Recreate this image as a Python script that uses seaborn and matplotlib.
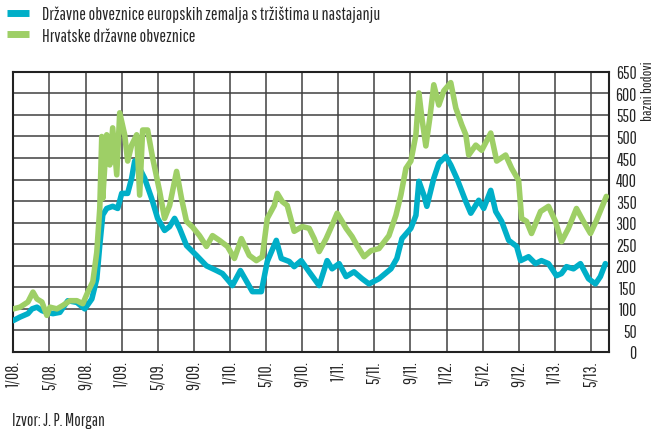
import numpy as np
import pandas as pd
import matplotlib
matplotlib.use("Agg")
import matplotlib.pyplot as plt
from matplotlib.lines import Line2D
import seaborn as sns

# months since 1/2008 and spread in basis points
em_months = [0.0, 0.74, 1.62, 2.07, 2.62, 3.17, 3.72, 4.39, 5.16, 6.04, 7.04, 7.92,
             8.70, 9.25, 9.58, 9.91, 10.35, 11.01, 11.57, 12.01, 12.67, 13.11, 13.45,
             14.00, 14.55, 15.33, 15.99, 16.76, 17.32, 17.87, 18.42, 19.19, 20.30,
             21.40, 22.51, 23.17, 23.94, 24.27, 25.16, 26.49, 27.48, 28.14, 29.14,
             29.69, 30.57, 31.12, 31.90, 32.78, 33.89, 34.77, 35.32, 36.10, 36.87,
             37.75, 38.64, 39.41, 40.52, 41.84, 42.50, 43.06, 44.05, 44.61, 44.94,
             45.49, 45.82, 46.59, 47.15, 47.92, 48.47, 49.14, 50.14, 50.69, 51.57,
             52.12, 52.90, 53.45, 54.11, 54.89, 55.77, 56.21, 57.09, 57.86, 58.52,
             59.30, 60.18, 60.74, 61.29, 62.07, 62.84, 63.73, 64.50, 65.05, 65.60]
em_spread = [73, 81, 89, 100, 104, 96, 92, 89, 92, 119, 115, 100,
             123, 170, 248, 318, 333, 338, 333, 368, 368, 403, 443,
             426, 403, 356, 310, 282, 291, 310, 287, 247, 224,
             200, 189, 182, 163, 154, 189, 140, 140, 210, 259,
             217, 210, 198, 212, 186, 154, 212, 193, 205, 175,
             186, 170, 158, 170, 193, 217, 263, 287, 317, 396,
             364, 338, 403, 438, 454, 434, 403, 349, 322, 352,
             333, 375, 326, 303, 259, 245, 212, 221, 205, 212,
             205, 177, 182, 198, 193, 205, 170, 158, 175, 205]

hr_months = [0.0, 0.74, 1.62, 2.18, 2.62, 3.17, 3.72, 4.06, 4.83, 5.49, 6.27, 7.04,
             7.70, 8.25, 8.81, 9.25, 9.58, 9.80, 9.91, 10.35, 10.69, 11.01, 11.46,
             11.79, 12.34, 12.67, 13.11, 13.67, 14.00, 14.33, 14.88, 15.44, 16.21,
             16.76, 17.32, 18.09, 18.64, 19.19, 19.85, 20.63, 21.40, 22.07, 22.84,
             23.72, 24.50, 25.27, 26.15, 26.93, 27.59, 28.14, 28.92, 29.25, 29.80,
             30.35, 31.12, 32.01, 32.78, 33.34, 33.89, 34.66, 35.32, 35.88, 36.43,
             36.87, 37.53, 38.09, 38.86, 39.63, 40.52, 41.62, 42.39, 42.94, 43.50,
             44.05, 44.61, 44.94, 45.27, 45.71, 46.15, 46.59, 47.15, 47.70, 48.47,
             49.03, 49.69, 50.14, 50.46, 51.24, 51.90, 52.90, 53.56, 54.55, 55.22,
             55.99, 56.32, 56.87, 57.42, 58.42, 59.30, 60.07, 60.74, 61.51, 62.40,
             63.17, 63.95, 64.61, 65.16, 65.71]
hr_spread = [100, 104, 116, 139, 123, 116, 85, 104, 100, 108, 119, 119,
             112, 139, 163, 232, 333, 500, 356, 504, 434, 520, 411,
             555, 504, 443, 480, 504, 364, 515, 515, 450, 373,
             310, 340, 419, 356, 303, 290, 270, 245, 270, 259,
             245, 217, 263, 224, 212, 221, 310, 340, 368, 349,
             340, 280, 291, 287, 263, 233, 263, 294, 322, 303,
             287, 268, 247, 221, 235, 240, 270, 317, 364, 426,
             443, 504, 601, 543, 478, 543, 620, 573, 606, 625,
             566, 527, 504, 457, 480, 468, 508, 443, 457, 426,
             398, 310, 303, 275, 326, 338, 303, 256, 287, 333,
             303, 275, 305, 333, 361]

tick_months = list(range(0, 65, 4))
tick_labels = ["1/08.", "5/08.", "9/08.", "1/09.", "5/09.", "9/09.", "1/10.", "5/10.",
               "9/10.", "1/11.", "5/11.", "9/11.", "1/12.", "5/12.", "9/12.", "1/13.",
               "5/13."]
y_ticks = list(range(0, 651, 50))

series_names = ["Državne obveznice europskih zemalja s tržištima u nastajanju",
                "Hrvatske državne obveznice"]
colors = ["#00AFC8", "#9ECF66"]

sns.set_theme(style="white")
plt.rcParams["font.family"] = ["Pathway Gothic One", "DejaVu Sans"]
txt_color = "#262626"

fig = plt.figure(figsize=(6.56, 4.31), dpi=100)
ax = fig.add_axes([0.0203, 0.181, 0.908, 0.650])

sns.lineplot(x=em_months, y=em_spread, ax=ax, color=colors[0], linewidth=4.0,
             solid_joinstyle="round", solid_capstyle="round", zorder=3)
sns.lineplot(x=hr_months, y=hr_spread, ax=ax, color=colors[1], linewidth=4.0,
             solid_joinstyle="round", solid_capstyle="round", zorder=4)

ax.set_xlim(0, 66)
ax.set_ylim(0, 650)
ax.set_xticks(tick_months)
ax.set_xticklabels(tick_labels, rotation=90, fontsize=12.5, color=txt_color)
ax.set_yticks(y_ticks)
ax.yaxis.tick_right()
ax.set_yticklabels([str(v) for v in y_ticks], fontsize=12.5, color=txt_color, ha="right")
ax.tick_params(axis="y", length=0, pad=20)
ax.tick_params(axis="x", length=0, pad=6)
ax.grid(True, color="#404040", linewidth=1.1)
ax.set_axisbelow(True)
for sp in ax.spines.values():
    sp.set_visible(True)
    sp.set_color("#222222")
    sp.set_linewidth(1.5)
ax.set_xlabel("")
ax.set_ylabel("")

fig.text(0.988, 0.857, "bazni bodovi", rotation=90, va="top", ha="center",
         fontsize=11, color=txt_color)

handles = [Line2D([], [], color=c, linewidth=5, solid_capstyle="butt") for c in colors]
fig.legend(handles, series_names, loc="upper left", bbox_to_anchor=(0.010, 0.985),
           frameon=False, fontsize=12.8, handlelength=1.25, handletextpad=0.72,
           labelspacing=0.3, borderpad=0, borderaxespad=0, labelcolor=txt_color)

fig.text(0.018, 0.012, "Izvor: J. P. Morgan", fontsize=12.3, color=txt_color)

fig.savefig("out.png", dpi=100)
